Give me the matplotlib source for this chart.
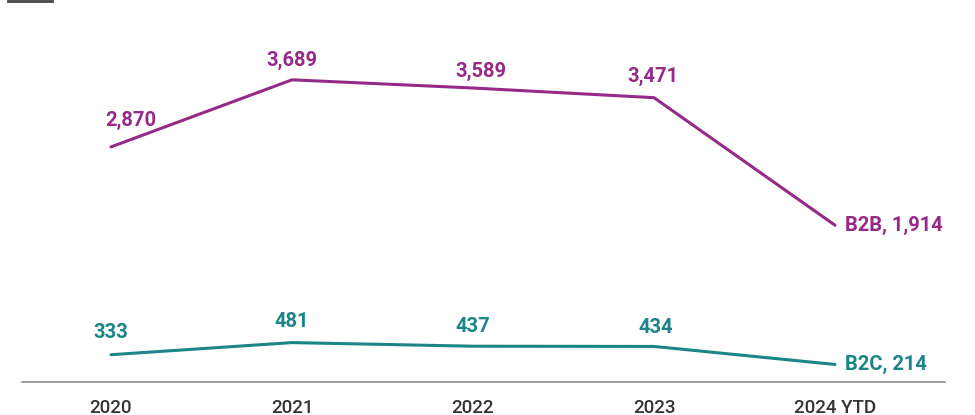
import matplotlib.pyplot as plt
from matplotlib.lines import Line2D

years = ['2020', '2021', '2022', '2023', '2024 YTD']
b2b = [2870, 3689, 3589, 3471, 1914]
b2c = [333, 481, 437, 434, 214]

purple = '#952a89'
teal = '#1b8587'

plt.rcParams['font.family'] = ['Roboto', 'DejaVu Sans']

fig = plt.figure(figsize=(9.75, 4.15), dpi=100)
ax = fig.add_axes([22 / 975, 33 / 415, 923 / 975, 332 / 415])

x = list(range(len(years)))
ax.plot(x, b2b, color=purple, linewidth=2.2, solid_capstyle='round')
ax.plot(x, b2c, color=teal, linewidth=2.2, solid_capstyle='round')

# value labels above each point, last point labelled to the right with series name
b2b_off = [(14, 19), (0, 14), (6, 12), (-1, 15)]
b2c_off = [(0, 16), (0, 15), (0, 14.5), (1, 14)]
for i, v in enumerate(b2b[:-1]):
    ax.annotate(f'{v:,}', (x[i], v), xytext=b2b_off[i], textcoords='offset points',
                ha='center', va='center', color=purple, fontsize=14.5, fontweight='bold')
for i, v in enumerate(b2c[:-1]):
    ax.annotate(f'{v:,}', (x[i], v), xytext=b2c_off[i], textcoords='offset points',
                ha='center', va='center', color=teal, fontsize=14.5, fontweight='bold')
ax.annotate(f'B2B, {b2b[-1]:,}', (x[-1], b2b[-1]), xytext=(7, 0), textcoords='offset points',
            ha='left', va='center', color=purple, fontsize=14.5, fontweight='bold')
ax.annotate(f'B2C, {b2c[-1]:,}', (x[-1], b2c[-1]), xytext=(7, 0), textcoords='offset points',
            ha='left', va='center', color=teal, fontsize=14.5, fontweight='bold')

ax.set_xlim(-89 / 181, 4 + 110 / 181)
ax.set_ylim(0, 4053)
ax.set_xticks(x)
ax.set_xticklabels(years, fontsize=13.5, color='#333333', fontweight='medium')
ax.tick_params(axis='x', length=0, pad=12)
ax.set_yticks([])
for s in ['top', 'right', 'left']:
    ax.spines[s].set_visible(False)
ax.spines['bottom'].set_color('#8a8a8a')
ax.spines['bottom'].set_linewidth(1.2)

# header rule at the top left
fig.add_artist(Line2D([8 / 975, 52 / 975], [1 - 1 / 415, 1 - 1 / 415],
                      transform=fig.transFigure, color='#444444', linewidth=2))

fig.savefig('out.png', dpi=100, facecolor='white')
